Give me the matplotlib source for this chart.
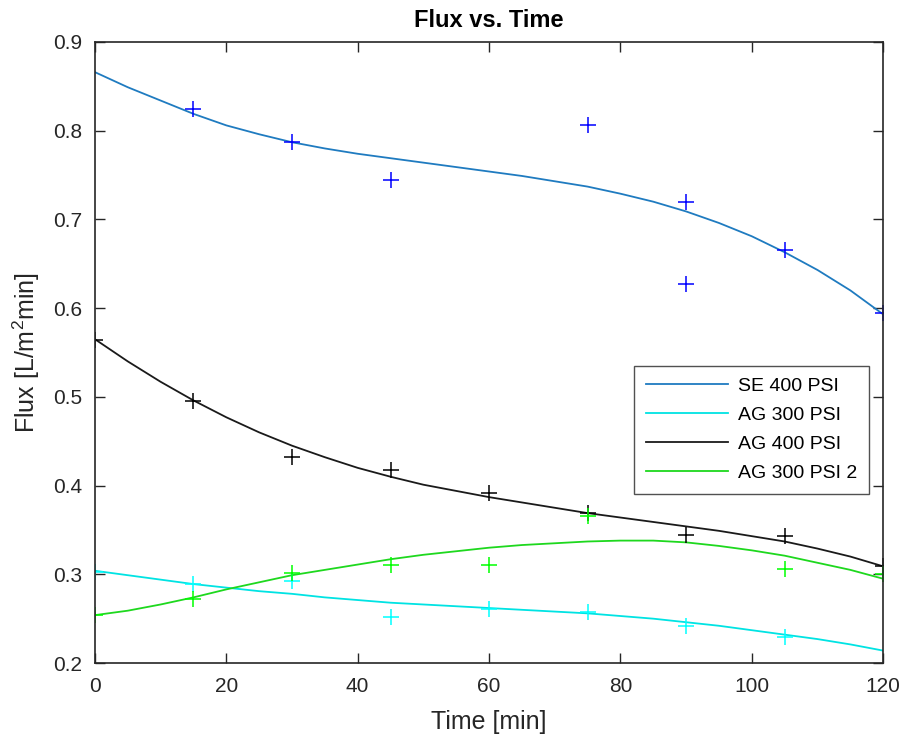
import matplotlib
matplotlib.use("Agg")
import matplotlib.pyplot as plt

plt.rcParams['font.family'] = ['Liberation Sans', 'DejaVu Sans']
plt.rcParams['mathtext.fontset'] = 'custom'
plt.rcParams['mathtext.rm'] = 'Liberation Sans'

# ---- measured data (markers) ----
se400_t = [15, 30, 45, 75, 90, 90, 105, 120]
se400_f = [0.825, 0.787, 0.745, 0.806, 0.720, 0.627, 0.665, 0.594]

ag300_t = [0, 15, 30, 45, 60, 75, 90, 105]
ag300_f = [0.303, 0.289, 0.293, 0.252, 0.261, 0.257, 0.242, 0.229]

ag400_t = [0, 15, 30, 45, 60, 75, 90, 105, 120]
ag400_f = [0.564, 0.495, 0.432, 0.418, 0.392, 0.369, 0.344, 0.343, 0.309]

ag300b_t = [0, 15, 30, 45, 60, 75, 105, 120]
ag300b_f = [0.254, 0.272, 0.301, 0.311, 0.311, 0.366, 0.306, 0.300]

# ---- fitted curves (every 5 min) ----
fit_t = [0, 5, 10, 15, 20, 25, 30, 35, 40, 45, 50, 55, 60,
         65, 70, 75, 80, 85, 90, 95, 100, 105, 110, 115, 120]
se400_fit = [0.866, 0.849, 0.834, 0.819, 0.806, 0.796, 0.787, 0.780, 0.774, 0.769, 0.764, 0.759, 0.754,
             0.749, 0.743, 0.737, 0.729, 0.720, 0.709, 0.696, 0.681, 0.663, 0.643, 0.620, 0.593]
ag300_fit = [0.304, 0.299, 0.294, 0.289, 0.285, 0.281, 0.278, 0.274, 0.271, 0.268, 0.266, 0.264, 0.262,
             0.260, 0.258, 0.256, 0.253, 0.250, 0.246, 0.242, 0.237, 0.232, 0.227, 0.221, 0.214]
ag400_fit = [0.565, 0.540, 0.517, 0.496, 0.477, 0.460, 0.445, 0.432, 0.420, 0.410, 0.401, 0.394, 0.387,
             0.381, 0.375, 0.369, 0.364, 0.359, 0.354, 0.349, 0.343, 0.337, 0.329, 0.320, 0.309]
ag300b_fit = [0.254, 0.259, 0.266, 0.274, 0.283, 0.291, 0.299, 0.305, 0.311, 0.317, 0.322, 0.326, 0.330,
              0.333, 0.335, 0.337, 0.338, 0.338, 0.336, 0.332, 0.327, 0.321, 0.313, 0.305, 0.295]

labels = ['SE 400 PSI', 'AG 300 PSI', 'AG 400 PSI', 'AG 300 PSI 2']

fig = plt.figure(figsize=(9.04, 7.47), dpi=100)
ax = fig.add_axes([0.105, 0.1124, 0.872, 0.8314])

line_cols = ['#1f7bc0', '#00E3E3', '#1a1a1a', '#1ED81E']
mark_cols = ['#0000FF', '#00FFFF', '#000000', '#00FF00']
ms = 11
mew = 1.1

fits = [se400_fit, ag300_fit, ag400_fit, ag300b_fit]
for f, c, lab in zip(fits, line_cols, labels):
    ax.plot(fit_t, f, color=c, lw=1.3, label=lab)

for (t, f), c in zip([(se400_t, se400_f), (ag300_t, ag300_f), (ag400_t, ag400_f), (ag300b_t, ag300b_f)], mark_cols):
    ax.plot(t, f, '+', color=c, ms=ms, mew=mew, linestyle='none')

ax.set_xlim(0, 120)
ax.set_ylim(0.2, 0.9)
ax.set_xticks([0, 20, 40, 60, 80, 100, 120])
ax.set_yticks([0.2, 0.3, 0.4, 0.5, 0.6, 0.7, 0.8, 0.9])
ax.tick_params(direction='in', top=True, right=True, length=7, width=1,
               labelsize=15, colors='#262626')
ax.tick_params(axis='x', pad=10)
ax.tick_params(axis='y', pad=9)
for s in ax.spines.values():
    s.set_color('#262626')
    s.set_linewidth(1.2)

ax.set_title('Flux vs. Time', fontsize=17, fontweight='bold', pad=11)
ax.set_xlabel('Time [min]', fontsize=18, color='#262626', labelpad=10)
ax.set_ylabel('Flux [L/m$^2$min]', fontsize=18, color='#262626', labelpad=8)

leg = ax.legend(loc='upper left', bbox_to_anchor=(0.684, 0.479), fontsize=14,
                frameon=True, fancybox=False, edgecolor='#262626',
                handlelength=4.2, borderpad=0.62, labelspacing=0.58, handletextpad=0.5,
                borderaxespad=0)
leg.get_frame().set_linewidth(1.0)

fig.savefig('out.png', dpi=100)
